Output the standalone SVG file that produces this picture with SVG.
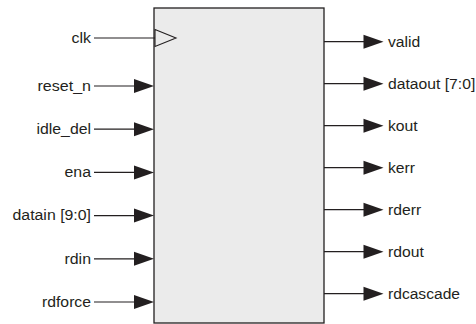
<svg xmlns="http://www.w3.org/2000/svg" width="476" height="324" viewBox="0 0 476 324">
<style>
.t{font-family:"Liberation Sans",Arial,sans-serif;font-size:14px;fill:#231f20}
.in{text-anchor:end}
.w{stroke:#231f20;stroke-width:1.2;fill:none}
.ah{fill:#231f20;stroke:none}
.box{fill:#ebebeb;stroke:#231f20;stroke-width:1.3}
</style>
<defs>
<polygon id="hd" class="ah" points="-20,-7 0,0 -20,7"/>
</defs>
<rect width="476" height="324" fill="#ffffff"/>
<g id="block">
<rect class="box" x="154" y="8" width="170" height="315"/>
<polygon points="155,29.5 176,38 155,46.5" fill="#ebebeb" stroke="#231f20" stroke-width="1.1"/>
</g>
<g id="connectors">
<line class="w" x1="94" y1="38" x2="155" y2="38"/>
<line class="w" x1="94" y1="86" x2="136" y2="86"/><use href="#hd" x="154" y="86"/>
<line class="w" x1="94" y1="129.2" x2="136" y2="129.2"/><use href="#hd" x="154" y="129.2"/>
<line class="w" x1="94" y1="172.4" x2="136" y2="172.4"/><use href="#hd" x="154" y="172.4"/>
<line class="w" x1="94" y1="215.6" x2="136" y2="215.6"/><use href="#hd" x="154" y="215.6"/>
<line class="w" x1="94" y1="258.8" x2="136" y2="258.8"/><use href="#hd" x="154" y="258.8"/>
<line class="w" x1="94" y1="302" x2="136" y2="302"/><use href="#hd" x="154" y="302"/>
<line class="w" x1="324" y1="41.7" x2="366" y2="41.7"/><use href="#hd" x="383.5" y="41.7"/>
<line class="w" x1="324" y1="83.7" x2="366" y2="83.7"/><use href="#hd" x="383.5" y="83.7"/>
<line class="w" x1="324" y1="125.7" x2="366" y2="125.7"/><use href="#hd" x="383.5" y="125.7"/>
<line class="w" x1="324" y1="167.7" x2="366" y2="167.7"/><use href="#hd" x="383.5" y="167.7"/>
<line class="w" x1="324" y1="209.7" x2="366" y2="209.7"/><use href="#hd" x="383.5" y="209.7"/>
<line class="w" x1="324" y1="251.7" x2="366" y2="251.7"/><use href="#hd" x="383.5" y="251.7"/>
<line class="w" x1="324" y1="293.7" x2="366" y2="293.7"/><use href="#hd" x="383.5" y="293.7"/>
</g>
<g id="labels-in">
<text class="t in" x="91" y="42.8" textLength="19.5" lengthAdjust="spacingAndGlyphs">clk</text>
<text class="t in" x="91" y="90.8" textLength="53.5" lengthAdjust="spacingAndGlyphs">reset_n</text>
<text class="t in" x="91" y="134" textLength="54.5" lengthAdjust="spacingAndGlyphs">idle_del</text>
<text class="t in" x="91" y="177.2" textLength="26.5" lengthAdjust="spacingAndGlyphs">ena</text>
<text class="t in" x="91" y="220.4" textLength="78.5" lengthAdjust="spacingAndGlyphs">datain [9:0]</text>
<text class="t in" x="91" y="263.6" textLength="26.5" lengthAdjust="spacingAndGlyphs">rdin</text>
<text class="t in" x="91" y="306.8" textLength="49" lengthAdjust="spacingAndGlyphs">rdforce</text>
</g>
<g id="labels-out">
<text class="t" x="388" y="46.5" textLength="32.3" lengthAdjust="spacingAndGlyphs">valid</text>
<text class="t" x="388" y="88.5" textLength="87.3" lengthAdjust="spacingAndGlyphs">dataout [7:0]</text>
<text class="t" x="388" y="130.5" textLength="29.7" lengthAdjust="spacingAndGlyphs">kout</text>
<text class="t" x="388" y="172.5" textLength="27" lengthAdjust="spacingAndGlyphs">kerr</text>
<text class="t" x="388" y="214.5" textLength="33.1" lengthAdjust="spacingAndGlyphs">rderr</text>
<text class="t" x="388" y="256.5" textLength="35.8" lengthAdjust="spacingAndGlyphs">rdout</text>
<text class="t" x="388" y="298.5" textLength="72" lengthAdjust="spacingAndGlyphs">rdcascade</text>
</g>
</svg>
